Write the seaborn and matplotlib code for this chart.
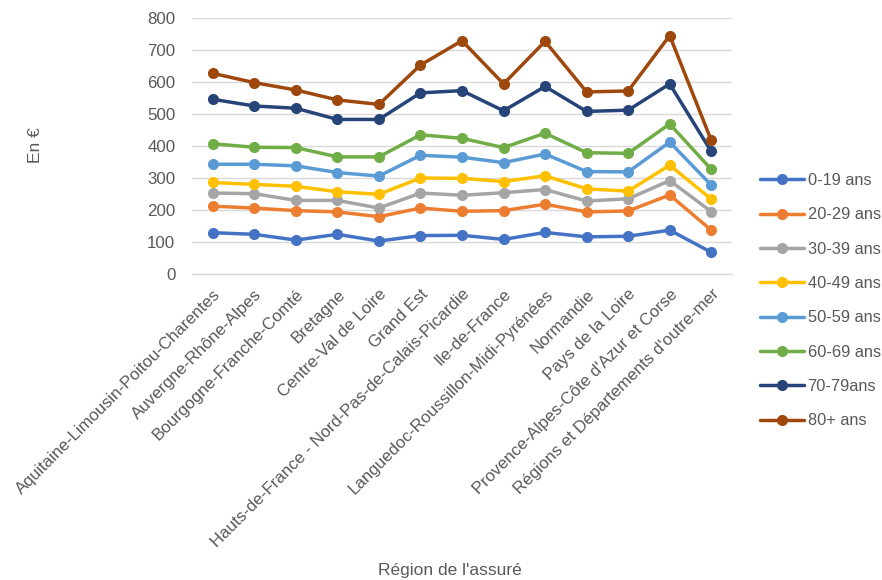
import matplotlib
matplotlib.use("Agg")
import matplotlib.pyplot as plt
import seaborn as sns
import pandas as pd
from matplotlib.lines import Line2D

regions = [
    "Aquitaine-Limousin-Poitou-Charentes",
    "Auvergne-Rhône-Alpes",
    "Bourgogne-Franche-Comté",
    "Bretagne",
    "Centre-Val de Loire",
    "Grand Est",
    "Hauts-de-France - Nord-Pas-de-Calais-Picardie",
    "Ile-de-France",
    "Languedoc-Roussillon-Midi-Pyrénées",
    "Normandie",
    "Pays de la Loire",
    "Provence-Alpes-Côte d'Azur et Corse",
    "Régions et Départements d'outre-mer",
]

age_groups = ["0-19 ans", "20-29 ans", "30-39 ans", "40-49 ans",
              "50-59 ans", "60-69 ans", "70-79ans", "80+ ans"]

v_0_19 = [129, 124, 106, 124, 103, 120, 121, 108, 130, 116, 118, 137, 68]
v_20_29 = [212, 206, 198, 194, 179, 206, 196, 198, 218, 194, 197, 247, 137]
v_30_39 = [253, 251, 230, 230, 206, 253, 246, 254, 264, 228, 235, 292, 195]
v_40_49 = [286, 280, 274, 257, 249, 300, 299, 289, 307, 266, 259, 340, 234]
v_50_59 = [343, 343, 338, 317, 306, 371, 365, 348, 375, 320, 319, 412, 278]
v_60_69 = [407, 396, 395, 366, 366, 435, 424, 395, 440, 379, 377, 469, 327]
v_70_79 = [546, 525, 518, 483, 483, 566, 573, 510, 586, 508, 512, 594, 383]
v_80 = [627, 598, 575, 544, 530, 653, 729, 594, 727, 569, 572, 745, 418]

series = [v_0_19, v_20_29, v_30_39, v_40_49, v_50_59, v_60_69, v_70_79, v_80]
colors = ["#4472C4", "#ED7D31", "#A5A5A5", "#FFC000",
          "#5B9BD5", "#70AD47", "#264478", "#9E480E"]

rows = []
for g, vals in zip(age_groups, series):
    for r, v in zip(regions, vals):
        rows.append({"Région": r, "Âge": g, "Valeur": v})
df = pd.DataFrame(rows)

sns.set_theme(style="white")
plt.rcParams["font.family"] = ["Liberation Sans", "DejaVu Sans"]

fig = plt.figure(figsize=(8.82, 5.80), dpi=100)
ax = fig.add_axes([192 / 882, 1 - 274 / 580, 540 / 882, 256 / 580])

sns.lineplot(data=df, x="Région", y="Valeur", hue="Âge", hue_order=age_groups,
             palette=colors, marker="o", markersize=8, markeredgewidth=0,
             linewidth=2.5, sort=False, ax=ax, legend=False, zorder=3)

ax.set_xlim(-0.5, len(regions) - 0.5)
ax.set_ylim(0, 800)
ax.set_yticks(range(0, 801, 100))
ax.yaxis.grid(True, color="#D9D9D9", linewidth=1)
ax.axhline(0, color="#D9D9D9", linewidth=1, clip_on=False, zorder=1)
ax.set_axisbelow(True)
for s in ax.spines.values():
    s.set_visible(False)
ax.tick_params(axis="both", length=0, colors="#595959", labelsize=12.2)
ax.tick_params(axis="y", pad=12)
ax.set_xticks(range(len(regions)))
ax.set_xticklabels(regions, rotation=45, ha="right", rotation_mode="anchor")
ax.tick_params(axis="x", pad=9)

ax.set_xlabel("")
ax.set_ylabel("")
fig.text(450 / 882, 1 - 570 / 580, "Région de l'assuré", ha="center", va="center",
         fontsize=12.5, color="#595959")
fig.text(35 / 882, 1 - 145 / 580, "En €", ha="center", va="center",
         rotation=90, fontsize=12.5, color="#595959")

handles = [Line2D([0], [0], color=c, linewidth=2.5, marker="o", markersize=8,
                  markeredgewidth=0) for c in colors]
leg = fig.legend(handles, age_groups, loc="upper left",
                 bbox_to_anchor=(760 / 882, 1 - 173 / 580), frameon=False,
                 fontsize=11.8, handlelength=2.7, handletextpad=0.2,
                 labelspacing=1.18, borderaxespad=0, borderpad=0)
for t in leg.get_texts():
    t.set_color("#595959")

fig.savefig("out.png", dpi=100)
